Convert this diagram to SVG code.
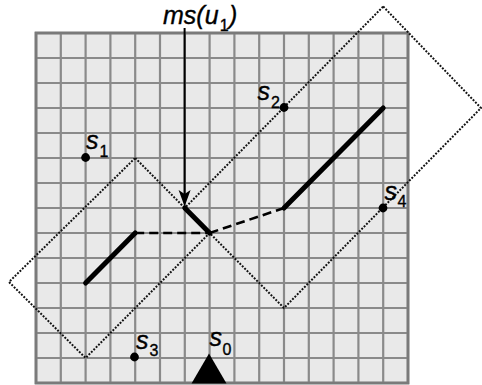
<svg xmlns="http://www.w3.org/2000/svg" width="482" height="385" viewBox="0 0 482 385">
<style>
.grid line{stroke:#8a8a8a;stroke-width:2.2}
.border{fill:#e9e9e9;stroke:#7a7a7a;stroke-width:2.6}
.region{fill:none;stroke:#111;stroke-width:2;stroke-dasharray:1.9 1.5}
.thick{stroke:#000;stroke-width:5;stroke-linecap:round;fill:none}
.dash{stroke:#000;stroke-width:2.6;stroke-dasharray:9 5;fill:none}
.lbl{font-family:"Liberation Sans",Arial,sans-serif;font-style:italic;fill:#000;stroke:#000;stroke-width:0.35}
.big{font-size:25px}
.sub{font-size:16px;font-style:normal}
</style>
<g id="grid" class="grid">
<rect class="border" x="36" y="33" width="372" height="350"/>
<line x1="60.8" y1="33" x2="60.8" y2="383"/><line x1="85.6" y1="33" x2="85.6" y2="383"/><line x1="110.4" y1="33" x2="110.4" y2="383"/><line x1="135.2" y1="33" x2="135.2" y2="383"/><line x1="160" y1="33" x2="160" y2="383"/><line x1="184.8" y1="33" x2="184.8" y2="383"/><line x1="209.6" y1="33" x2="209.6" y2="383"/><line x1="234.4" y1="33" x2="234.4" y2="383"/><line x1="259.2" y1="33" x2="259.2" y2="383"/><line x1="284" y1="33" x2="284" y2="383"/><line x1="308.8" y1="33" x2="308.8" y2="383"/><line x1="333.6" y1="33" x2="333.6" y2="383"/><line x1="358.4" y1="33" x2="358.4" y2="383"/><line x1="383.2" y1="33" x2="383.2" y2="383"/>
<line x1="36" y1="58" x2="408" y2="58"/><line x1="36" y1="83" x2="408" y2="83"/><line x1="36" y1="108" x2="408" y2="108"/><line x1="36" y1="133" x2="408" y2="133"/><line x1="36" y1="158" x2="408" y2="158"/><line x1="36" y1="183" x2="408" y2="183"/><line x1="36" y1="208" x2="408" y2="208"/><line x1="36" y1="233" x2="408" y2="233"/><line x1="36" y1="258" x2="408" y2="258"/><line x1="36" y1="283" x2="408" y2="283"/><line x1="36" y1="308" x2="408" y2="308"/><line x1="36" y1="333" x2="408" y2="333"/><line x1="36" y1="358" x2="408" y2="358"/>
<rect x="36" y="33" width="372" height="350" fill="none" stroke="#7a7a7a" stroke-width="2.6"/>
</g>
<g id="regions">
<polygon id="region1" class="region" points="135.2,158 209.6,233 85.6,358 9,282"/>
<polygon id="region2" class="region" points="383.2,6.5 481,108 284,308 184.8,208"/>
</g>
<g id="connectors">
<line class="thick" x1="85.6" y1="283" x2="135.2" y2="233"/>
<line class="dash" x1="135.2" y1="233" x2="209.6" y2="233"/>
<line class="thick" x1="184.8" y1="208" x2="209.6" y2="233"/>
<line class="dash" x1="209.6" y1="233" x2="284" y2="208"/>
<line class="thick" x1="284" y1="208" x2="383.2" y2="108"/>
<line x1="184.6" y1="28" x2="184.6" y2="196" stroke="#000" stroke-width="2"/>
<path d="M184.6,206.5 L178.6,190 L184.6,194 L190.6,190 Z" fill="#000"/>
</g>
<g id="ms-label">
<text class="lbl big" x="163" y="24">ms(u</text>
<text class="lbl sub" x="219.8" y="31">1</text>
<text class="lbl big" x="229" y="24">)</text>
</g>
<g id="s1">
<circle cx="85.6" cy="157.5" r="4.4" fill="#000"/>
<text class="lbl big" x="86" y="148.5">s</text>
<text class="lbl sub" x="99.5" y="157">1</text>
</g>
<g id="s2">
<circle cx="284" cy="107.5" r="4.4" fill="#000"/>
<text class="lbl big" x="257.5" y="100">s</text>
<text class="lbl sub" x="271" y="108">2</text>
</g>
<g id="s3">
<circle cx="134.5" cy="357" r="4.4" fill="#000"/>
<text class="lbl big" x="136" y="348.5">s</text>
<text class="lbl sub" x="149.5" y="355.5">3</text>
</g>
<g id="s4">
<circle cx="383" cy="208" r="4.4" fill="#000"/>
<text class="lbl big" x="384.5" y="200">s</text>
<text class="lbl sub" x="397.5" y="207">4</text>
</g>
<g id="s0">
<polygon points="209,353.5 191.5,383.5 226.5,383.5" fill="#000"/>
<text class="lbl big" x="209.5" y="346">s</text>
<text class="lbl sub" x="222.5" y="355">0</text>
</g>
</svg>
